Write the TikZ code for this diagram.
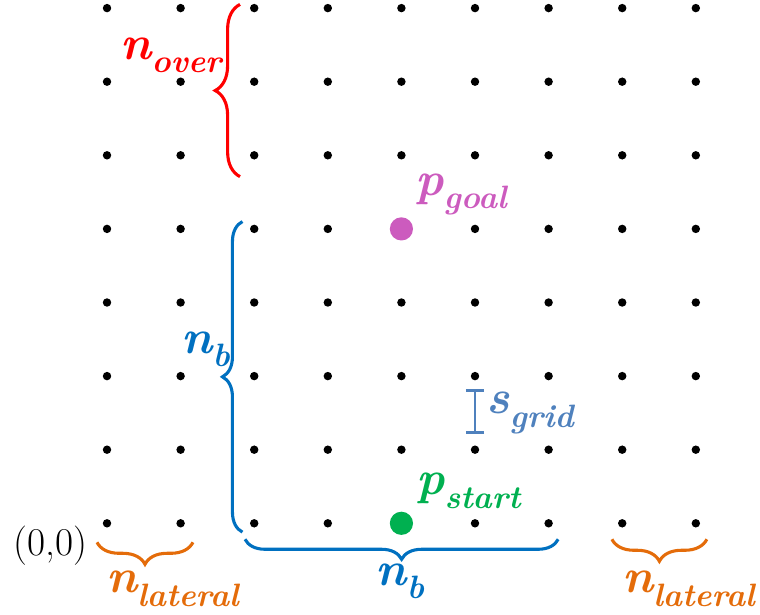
\documentclass[tikz,border=0pt]{standalone}
\usepackage{amsmath,amssymb}
\usepackage{xcolor}
\usepackage{tikz}
\usetikzlibrary{calc, arrows.meta, decorations.pathreplacing}

\definecolor{overred}{RGB}{255,0,0}
\definecolor{nbblue}{RGB}{0,112,192}
\definecolor{latorange}{RGB}{228,108,10}
\definecolor{gridblue}{RGB}{79,129,189}
\definecolor{goalpink}{RGB}{204,91,190}
\definecolor{startgreen}{RGB}{0,176,80}

\newcommand{\symb}[2]{\bfseries\itshape #1\raisebox{-0.28em}{\fontsize{23}{27}\selectfont #2}}

\tikzset{
	lbl/.style={font=\fontsize{34}{38}\selectfont, inner sep=0pt},
	brc/.style={decorate, line width=2.2pt, decoration={brace, amplitude=#1}},
}

\begin{document}
\begin{tikzpicture}[x=1.84cm, y=1.84cm]
			\useasboundingbox (-1.454,-1.236) rectangle (8.872,7.11);
			\foreach \i in {0,...,8}
				\foreach \j in {0,...,7} {
					\coordinate (d\i-\j) at (\i,\j);
					\fill (d\i-\j) circle (3pt);
				}
			\node[font=\fontsize{28}{32}\selectfont, anchor=east, inner sep=0pt] (org) at (-0.26,-0.30) {(0,0)};
			\fill[goalpink] (d4-4) circle (0.29cm) node (goal) {};
			\fill[startgreen] (d4-0) circle (0.29cm) node (start) {};
			\node[lbl, goalpink] (pgoal) at (4.81,4.47) {\symb{p}{goal}};
			\node[lbl, startgreen] (pstart) at (4.91,0.44) {\symb{p}{start}};
			% braces
			\coordinate (ov1) at (1.807,4.71);
			\coordinate (ov2) at (1.807,7.05);
			\draw[brc=0.62cm, overred] (ov1) -- (ov2);
			\node[lbl, overred] (nover) at (0.87,6.36) {\symb{n}{over}};
			\coordinate (bv1) at (1.84,-0.12);
			\coordinate (bv2) at (1.84,4.10);
			\draw[brc=0.5cm, nbblue] (bv1) -- (bv2);
			\node[lbl, nbblue] (nbv) at (1.34,2.36) {\symb{n}{b}};
			\coordinate (bh1) at (6.13,-0.217);
			\coordinate (bh2) at (1.875,-0.217);
			\draw[brc=0.5cm, nbblue] (bh1) -- (bh2);
			\node[lbl, nbblue] (nbh) at (3.98,-0.79) {\symb{n}{b}};
			\coordinate (ll1) at (1.168,-0.258);
			\coordinate (ll2) at (-0.136,-0.258);
			\draw[brc=0.55cm, latorange] (ll1) -- (ll2);
			\node[lbl, latorange] (nlatl) at (0.89,-0.89) {\symb{n}{lateral}};
			\coordinate (lr1) at (8.15,-0.217);
			\coordinate (lr2) at (6.86,-0.217);
			\draw[brc=0.55cm, latorange] (lr1) -- (lr2);
			\node[lbl, latorange] (nlatr) at (7.90,-0.89) {\symb{n}{lateral}};
			% grid step
			\coordinate (s1) at (5.0,1.82);
			\coordinate (s2) at (5.0,1.21);
			\draw[gridblue, line width=2pt, {Bar[width=13pt]}-{Bar[width=13pt]}] (s1) -- (s2);
			\node[lbl, gridblue, anchor=west] (sgrid) at (5.15,1.50) {\symb{s}{grid}};
		\end{tikzpicture}
\end{document}
